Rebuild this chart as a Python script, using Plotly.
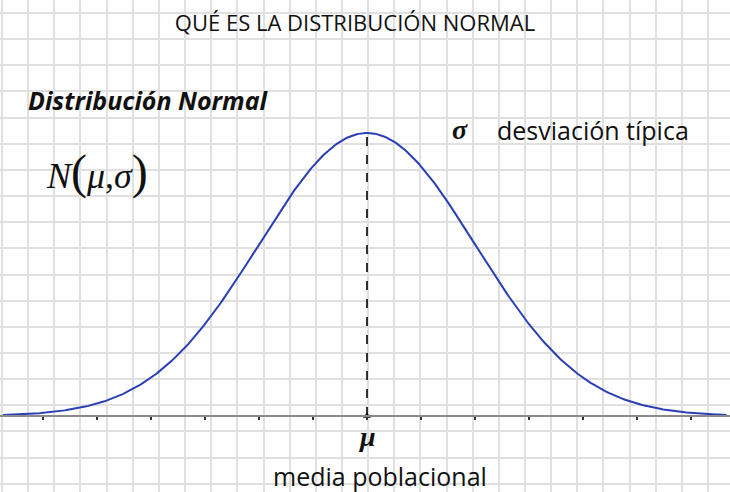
import numpy as np
import plotly.graph_objects as go

# ---- data ----
MU = 0.0
SIGMA = 1.0
x_vals = np.linspace(-3.37, 3.33, 400)
y_vals = np.exp(-0.5 * ((x_vals - MU) / SIGMA) ** 2) / (SIGMA * np.sqrt(2 * np.pi))
peak = 1 / (SIGMA * np.sqrt(2 * np.pi))
tick_vals = [MU + 0.5 * k * SIGMA for k in range(-7, 8)]

title_text = "QUÉ ES LA DISTRIBUCIÓN NORMAL"
heading_text = "Distribución Normal"
sigma_label = "desviación típica"
mu_label = "media poblacional"

W, H = 730, 492
X_RANGE = [-3.398, 3.361]
Y_RANGE = [-0.10714, 0.58643]

fig = go.Figure()

# background squared-paper grid (overlay axes in pixel units)
grid_x = [2 + 26.15 * k for k in range(0, 29)]
grid_y = [13 + 26.15 * k for k in range(0, 19)]
fig.add_trace(go.Scatter(x=[0], y=[0], xaxis="x2", yaxis="y2", mode="markers",
                         marker=dict(opacity=0), hoverinfo="skip", showlegend=False))

# curve
fig.add_trace(go.Scatter(x=x_vals, y=y_vals, mode="lines",
                         line=dict(color="#2a3fb5", width=2), showlegend=False))
# dashed line at mu
fig.add_trace(go.Scatter(x=[MU, MU], y=[0, peak], mode="lines",
                         line=dict(color="black", width=1.6, dash="dash"), showlegend=False))
# mu marker
fig.add_trace(go.Scatter(x=[MU], y=[0], mode="markers",
                         marker=dict(symbol="triangle-up", size=7, color="black"), showlegend=False))

FONT = "Open Sans"
fig.update_layout(
    width=W, height=H,
    margin=dict(l=0, r=0, t=0, b=0, autoexpand=False),
    paper_bgcolor="white", plot_bgcolor="white",
    title=dict(text=title_text, x=355 / W, y=1 - 23 / H, xanchor="center", yanchor="middle",
               automargin=False,
               font=dict(family=FONT, size=22, color="#111")),
    xaxis=dict(range=X_RANGE, anchor="free", position=(H - 416) / H, automargin=False,
               showline=True, linecolor="#8a8a8a", linewidth=2,
               tickvals=tick_vals, ticks="outside", ticklen=3, tickwidth=1.5, tickcolor="#333",
               showticklabels=False, showgrid=False, zeroline=False),
    yaxis=dict(range=Y_RANGE, showgrid=False, zeroline=False, showticklabels=False,
               showline=False, automargin=False),
    xaxis2=dict(range=[0, W], overlaying="x", side="top", tickvals=grid_x, showgrid=True,
                gridcolor="#e0e0e0", gridwidth=2.2, showticklabels=False, zeroline=False,
                ticks="", showline=False, automargin=False),
    yaxis2=dict(range=[H, 0], overlaying="y", side="right", tickvals=grid_y, showgrid=True,
                gridcolor="#e0e0e0", gridwidth=2.2, showticklabels=False, zeroline=False,
                ticks="", showline=False, automargin=False),
)

def ann(text, px, py, size, family=FONT, anchor="left", color="#111"):
    fig.add_annotation(text=text, x=px / W, y=1 - py / H, xref="paper", yref="paper",
                       xanchor=anchor, yanchor="middle", showarrow=False,
                       font=dict(family=family, size=size, color=color))

ann("<b><i>" + heading_text + "</i></b>", 26, 100, 25)
ann("<i>N</i><span style='font-size:48px'>(</span><i>μ</i>,<i>σ</i><span style='font-size:48px'>)</span>",
    44, 172, 36, family="Liberation Serif")
ann("<b><i>σ</i></b>", 450, 130, 28, family="Liberation Serif")
ann(sigma_label, 495, 130, 25)
ann("<b><i>μ</i></b>", 367, 436, 28, family="Liberation Serif", anchor="center")
ann(mu_label, 380, 476, 25, anchor="center")

fig.write_html("out.html", config={"displayModeBar": False},
               post_script="document.body.style.margin='0';document.body.style.overflow='hidden';")
